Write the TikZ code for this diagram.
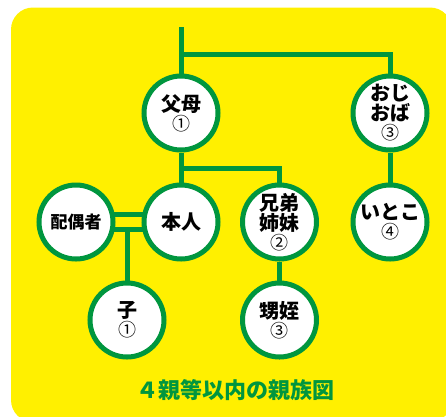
\documentclass[tikz,border=0pt]{standalone}
\usepackage{fontspec}
\setmainfont{Noto Sans CJK JP}
\usetikzlibrary{backgrounds}
\definecolor{kiiro}{RGB}{255,240,0}
\definecolor{midori}{RGB}{0,150,62}
\newcommand{\tokyu}[1]{\\[-1pt]{\mdseries\fontsize{18}{18}\selectfont #1}}
\tikzset{
shinzoku/.style={
  circle,draw=midori,fill=white,line width=5pt,
  minimum size=74pt,inner sep=0pt,align=center,
  font=\bfseries\fontsize{20}{20}\selectfont},
sen/.style={draw=midori,line width=5pt}}

\begin{document}
\begin{tikzpicture}[x=1pt,y=-1pt]
\useasboundingbox (0,0) rectangle (446,416);
\node[shinzoku] (fubo) at (181,113) {父母\tokyu{①}};
\node[shinzoku] (oji) at (390,113) {おじ\\[0pt]おば\tokyu{③}};
\node[shinzoku,font=\bfseries\fontsize{17}{17}\selectfont] (haigu) at (76,222) {配偶者};
\node[shinzoku] (honnin) at (181,222) {本人};
\node[shinzoku] (kyodai) at (279.5,222) {兄弟\\[0pt]姉妹\tokyu{②}};
\node[shinzoku] (itoko) at (390,222) {いとこ\tokyu{④}};
\node[shinzoku] (ko) at (127,320) {子\tokyu{①}};
\node[shinzoku] (oimei) at (279.5,320) {甥姪\tokyu{③}};
\node[text=midori,font=\bfseries\fontsize{22}{22}\selectfont] (title) at (235,390) {４親等以内の親族図};

\coordinate (top) at (181,27);
\coordinate (j1) at (181,54);
\coordinate (j2) at (181,168);
\coordinate (j3) at (127,229.5);

\begin{scope}[on background layer]
\fill[kiiro,rounded corners=22pt] (11,7.5) rectangle (452,422);
\draw[sen] (top) -- (fubo);
\draw[sen] (j1) -| (oji);
\draw[sen] (fubo) -- (honnin);
\draw[sen] (j2) -| (kyodai);
\draw[sen] (kyodai) -- (oimei);
\draw[sen] (oji) -- (itoko);
% nijuu sen
\draw[sen] ([yshift=7.5pt]haigu.center) -- ([yshift=7.5pt]honnin.center);
\draw[sen] ([yshift=-7.5pt]haigu.center) -- ([yshift=-7.5pt]honnin.center);
\draw[sen] (j3) -- (ko);
\end{scope}
\end{tikzpicture}
\end{document}
